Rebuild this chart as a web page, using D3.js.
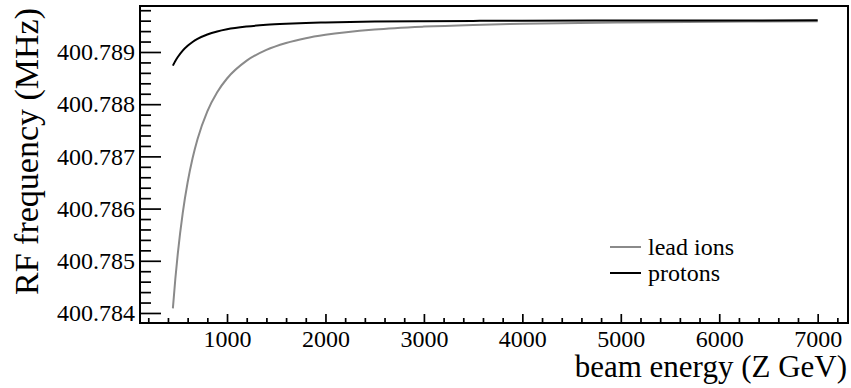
<!DOCTYPE html>
<html><head><meta charset="utf-8">
<script src="https://cdn.jsdelivr.net/npm/d3@7"></script>
<style>
body{margin:0;background:#fff}
svg{display:block}
text{font-family:"Liberation Serif","Times New Roman",Times,serif;fill:#000}
</style>
</head><body>
<svg id="c" width="851" height="388" font-family="Liberation Serif, Times New Roman, serif"></svg>
<script>
// ---- data ----
const energies = [450, 475, 500, 550, 600, 650, 700, 800, 900, 1000, 1200, 1400, 1600, 1800, 2000, 2500, 3000, 3500, 4000, 5000, 6000, 7000];
const leadIons = [400.784089, 400.784655, 400.785138, 400.785914, 400.786504, 400.786964, 400.787328, 400.787863, 400.788230, 400.788492, 400.788834, 400.789040, 400.789173, 400.789265, 400.789330, 400.789431, 400.789486, 400.789519, 400.789540, 400.789565, 400.789579, 400.789587];
const protons  = [400.788739, 400.788828, 400.788904, 400.789027, 400.789120, 400.789192, 400.789250, 400.789334, 400.789392, 400.789434, 400.789487, 400.789520, 400.789541, 400.789556, 400.789566, 400.789582, 400.789590, 400.789596, 400.789599, 400.789603, 400.789605, 400.789606];
const seriesNames = ["lead ions", "protons"];
const xTicks = [1000, 2000, 3000, 4000, 5000, 6000, 7000];
const xMinorTicks = [200,400,600,800,1200,1400,1600,1800,2200,2400,2600,2800,3200,3400,3600,3800,4200,4400,4600,4800,5200,5400,5600,5800,6200,6400,6600,6800,7200];
const yTicks = [400.784, 400.785, 400.786, 400.787, 400.788, 400.789];
const yMinorTicks = [400.7842,400.7844,400.7846,400.7848,400.7852,400.7854,400.7856,400.7858,400.7862,400.7864,400.7866,400.7868,400.7872,400.7874,400.7876,400.7878,400.7882,400.7884,400.7886,400.7888,400.7892,400.7894,400.7896,400.7898];
const xDomain = [116, 7308];
const yDomain = [400.783808, 400.789881];
const xTitle = "beam energy (Z GeV)";
const yTitle = "RF frequency (MHz)";

// ---- layout ----
const FONT = '"Liberation Serif","Times New Roman",Times,serif';
const L = 140, R = 848, T = 6, B = 323;
const svg = d3.select("#c");
const x = d3.scaleLinear().domain(xDomain).range([L, R]);
const y = d3.scaleLinear().domain(yDomain).range([B, T]);

// curves
const line = d3.line().x(d => x(d[0])).y(d => y(d[1])).curve(d3.curveMonotoneX);
const colors = ["#8a8a8a", "#000000"];
[leadIons, protons].forEach((vals, i) => {
  svg.append("path")
    .datum(energies.map((e, j) => [e, vals[j]]))
    .attr("d", line)
    .attr("fill", "none")
    .attr("stroke", colors[i])
    .attr("stroke-width", 2);
});

// axes
function styleAxis(g) {
  g.attr("font-family", FONT).attr("font-size", 24);
  g.select(".domain").remove();
  g.selectAll(".tick line").attr("stroke", "#000").attr("stroke-width", 1.7);
  g.selectAll(".tick text").attr("fill", "#000").style("font-family", FONT).style("font-size", "24px");
}
svg.append("g").attr("transform", `translate(${L},0)`)
  .call(d3.axisLeft(y).tickValues(yTicks).tickFormat(d3.format(".3f")).tickSize(-21).tickPadding(5))
  .call(styleAxis);
svg.append("g").attr("transform", `translate(${L},0)`)
  .call(d3.axisLeft(y).tickValues(yMinorTicks).tickFormat("").tickSize(-11))
  .call(styleAxis);
svg.append("g").attr("transform", `translate(0,${B})`)
  .call(d3.axisBottom(x).tickValues(xTicks).tickFormat(d3.format("d")).tickSize(-9).tickPadding(7))
  .call(styleAxis);
svg.append("g").attr("transform", `translate(0,${B})`)
  .call(d3.axisBottom(x).tickValues(xMinorTicks).tickFormat("").tickSize(-5))
  .call(styleAxis);

// frame
svg.append("rect").attr("x", L).attr("y", T).attr("width", R - L).attr("height", B - T)
  .attr("fill", "none").attr("stroke", "#000").attr("stroke-width", 2);

// titles
svg.append("text").attr("x", 847).attr("y", 377).attr("text-anchor", "end")
  .style("font-family", FONT).style("font-size", "31px").text(xTitle);
svg.append("text").attr("transform", "translate(38,8) rotate(-90)").attr("text-anchor", "end")
  .style("font-family", FONT).style("font-size", "34px").text(yTitle);

// legend
const legY = [247, 273];
seriesNames.forEach((n, i) => {
  svg.append("line").attr("x1", 610).attr("x2", 641).attr("y1", legY[i]).attr("y2", legY[i])
    .attr("stroke", colors[i]).attr("stroke-width", 2);
  svg.append("text").attr("x", 648).attr("y", legY[i]).attr("dy", "0.32em")
    .style("font-family", FONT).style("font-size", "24px").text(n);
});
</script>
</body></html>
